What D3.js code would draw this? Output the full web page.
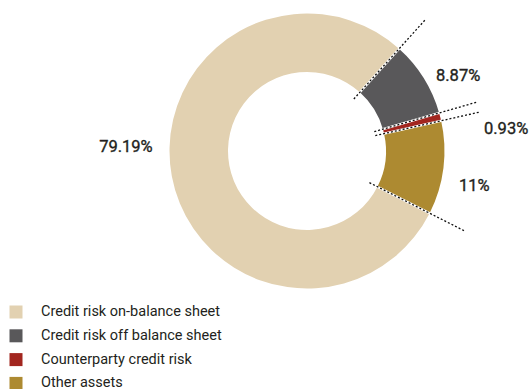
<!DOCTYPE html>
<html>
<head>
<meta charset="utf-8">
<script src="https://cdn.jsdelivr.net/npm/d3@7/dist/d3.min.js"></script>
<style>
  html, body { margin: 0; padding: 0; background: #fff; }
  svg { display: block; }
  text { font-family: Roboto, "Noto Sans", sans-serif; fill: #231f20; }
</style>
</head>
<body>
<svg id="chart" width="530" height="389"></svg>
<script>
// Capital requirement breakdown by risk type
const categories = [
  "Credit risk on-balance sheet",
  "Credit risk off balance sheet",
  "Counterparty credit risk",
  "Other assets"
];
const shares = [79.19, 8.87, 0.93, 11];
const shareLabels = ["79.19%", "8.87%", "0.93%", "11%"];
const colors = ["#e2d1b1", "#59585a", "#a2261f", "#ad8a31"];

const W = 530, H = 389;
const cx = 307, cy = 151;
const rOuter = 137.5, rInner = 79;
const deg = Math.PI / 180;
const start = 116.9 * deg;

const svg = d3.select("#chart");
const g = svg.append("g").attr("transform", `translate(${cx},${cy})`);

const pie = d3.pie().sort(null).value(d => d).startAngle(start).endAngle(start + 2 * Math.PI);
const arcs = pie(shares);
const arc = d3.arc().innerRadius(rInner).outerRadius(rOuter);

g.selectAll("path.slice")
  .data(arcs)
  .join("path")
  .attr("class", "slice")
  .attr("d", arc)
  .attr("fill", (d, i) => colors[i]);

// dashed leader lines on each boundary of the small slices
const boundaries = [arcs[1].startAngle, arcs[1].endAngle, arcs[2].endAngle, arcs[3].endAngle];
const rayInner = 70, rayOuter = 177;
const rays = g.append("g");
boundaries.forEach(a => {
  const p0 = d3.pointRadial(a, rayInner), p1 = d3.pointRadial(a, rayOuter);
  rays.append("line")
    .attr("x1", p0[0]).attr("y1", p0[1]).attr("x2", p1[0]).attr("y2", p1[1])
    .attr("stroke", "#fff").attr("stroke-width", 2.2);
  rays.append("line")
    .attr("x1", p0[0]).attr("y1", p0[1]).attr("x2", p1[0]).attr("y2", p1[1])
    .attr("stroke", "#111").attr("stroke-width", 1.3)
    .attr("stroke-dasharray", "2,2");
});

// percentage labels (offsets from the ring centre, baseline y)
const labelPos = [
  { x: 152.7 - cx, y: 151.7 - cy, anchor: "end" },
  { x: 436 - cx, y: 80.7 - cy, anchor: "start" },
  { x: 484 - cx, y: 134.3 - cy, anchor: "start" },
  { x: 459 - cx, y: 191 - cy, anchor: "start" }
];
g.selectAll("text.pct")
  .data(arcs)
  .join("text")
  .attr("class", "pct")
  .attr("x", (d, i) => labelPos[i].x)
  .attr("y", (d, i) => labelPos[i].y)
  .attr("text-anchor", (d, i) => labelPos[i].anchor)
  .attr("font-size", 16.5)
  .attr("font-weight", 400)
  .attr("stroke", "#231f20")
  .attr("stroke-width", 0.35)
  .text((d, i) => shareLabels[i]);

// legend
const legend = svg.append("g").attr("transform", "translate(9.5,305.5)");
const rows = legend.selectAll("g")
  .data(categories)
  .join("g")
  .attr("transform", (d, i) => `translate(0,${i * 23.8})`);
rows.append("rect")
  .attr("width", 13).attr("height", 13)
  .attr("fill", (d, i) => colors[i]);
rows.append("text")
  .attr("x", 31.5).attr("y", 10.5)
  .attr("font-size", 14.5)
  .attr("fill", "#2a2a2a")
  .text(d => d);
</script>
</body>
</html>
